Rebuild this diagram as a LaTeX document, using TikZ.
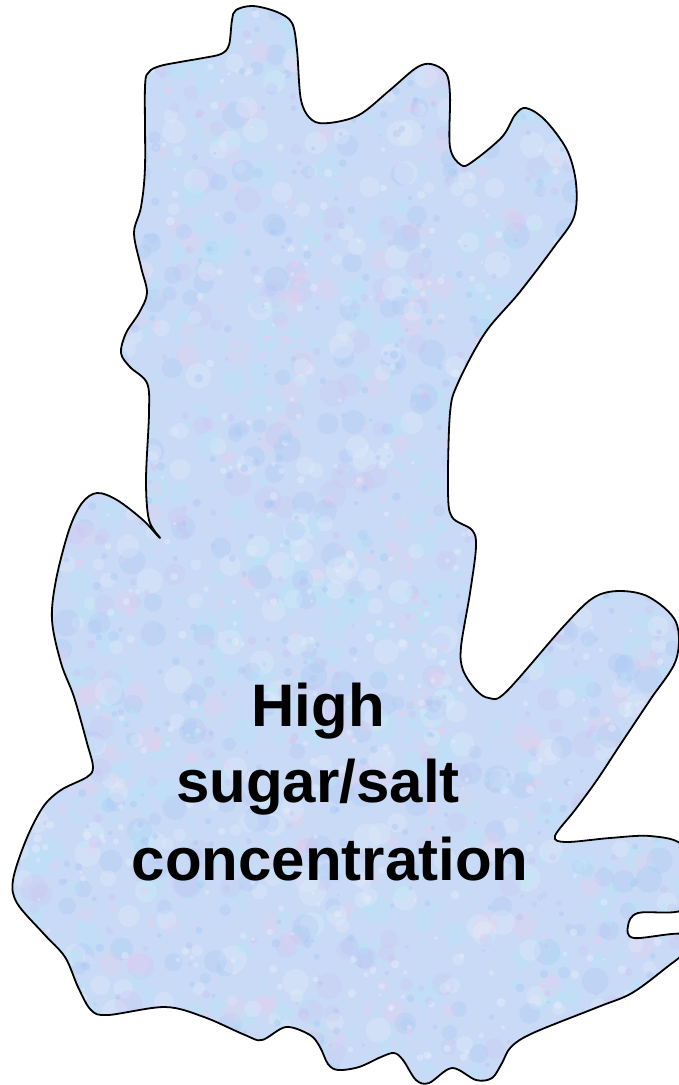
\documentclass[tikz,border=0pt]{standalone}
\usepackage{fontspec}
\setmainfont{Liberation Sans}
\definecolor{basefill}{RGB}{200,218,246}
\definecolor{tA}{RGB}{168,198,244}
\definecolor{tB}{RGB}{206,194,242}
\definecolor{tC}{RGB}{238,204,236}
\definecolor{tD}{RGB}{180,232,246}
\definecolor{tE}{RGB}{234,240,253}
\pgfmathdeclarerandomlist{texcol}{{tA}{tB}{tC}{tD}{tE}{tA}{tD}{tE}}
\tikzset{
  outline/.style={draw=black, line width=1.8pt, line join=round},
  label/.style={font=\fontsize{60}{77}\selectfont\bfseries, anchor=base, inner sep=0pt, text=black}
}
\begin{document}
\begin{tikzpicture}[x=1pt,y=-1pt]
\useasboundingbox (0,0) rectangle (679,1085);
\path[save path=\blobpath] plot[smooth cycle, tension=0.55] coordinates {
 (232,20) (236,10) (253,6) (277,12) (292,23) (297,50) (301,100) (312,120) (329,123)
 (359,115) (390,90) (416,68) (431,64) (446,73) (450,95) (450,147) (461,165) (472,162)
 (502,137) (515,115) (526,108) (545,120) (567,150) (576,183) (574,217) (554,247)
 (519,293) (485,333) (458,383) (450,413) (448,490) (452,517) (472,530) (476,547)
 (470,593) (461,647) (463,670) (476,690) (489,698) (506,692) (563,627) (593,598)
 (619,591) (649,597) (676,622) (676,660) (650,700) (620,745) (597,780) (575,810)
 (555,836) (566,842) (610,838) (650,836) (682,845) (688,880) (682,910) (638,913)
 (628,926) (634,938) (682,934) (684,952) (667,967) (632,993) (598,1007) (533,1033)
 (511,1047) (502,1063) (492,1078) (476,1080) (452,1068) (429,1083) (416,1080)
 (403,1060) (394,1053) (381,1057) (359,1067) (338,1070) (328,1064) (320,1047)
 (310,1035) (286,1027) (262,1040) (245,1035) (204,1017) (165,1007) (108,1015)
 (91,1010) (78,987) (65,957) (43,933) (17,903) (13,880) (26,840) (43,807) (61,790)
 (87,777) (93,767) (87,743) (74,697) (61,663) (52,620) (56,580) (69,530) (82,503)
 (97,493) (117,500) (143,520) (160,538) (149,520) (146,480) (149,413) (147,383)
 (130,367) (121,353) (126,333) (139,313) (147,293) (141,267) (134,233) (141,207)
 (145,167) (145,87) (149,72) (160,66) (180,62) (203,58) (221,54) (229,45)
};
\path[use path=\blobpath, fill=basefill];
\begin{scope}
\path[use path=\blobpath, clip];
\pgfmathsetseed{4242}
\foreach \i in {1,...,1600} {
  \pgfmathsetmacro{\xx}{rnd*700-10}
  \pgfmathsetmacro{\yy}{rnd*1100-10}
  \pgfmathsetmacro{\rr}{5+rnd*9}
  \pgfmathrandomitem{\cc}{texcol}
  \fill[\cc, opacity=0.28] (\xx,\yy) circle[radius=\rr];
}
\foreach \i in {1,...,1800} {
  \pgfmathsetmacro{\xx}{rnd*700-10}
  \pgfmathsetmacro{\yy}{rnd*1100-10}
  \pgfmathsetmacro{\rr}{1.5+rnd*3}
  \pgfmathrandomitem{\cc}{texcol}
  \fill[\cc, opacity=0.4] (\xx,\yy) circle[radius=\rr];
}
\end{scope}
\path[use path=\blobpath, outline];
\node[label] (l1) at (318,726) {High};
\node[label] (l2) at (318,802) {sugar/salt};
\node[label] (l3) at (330,880) {concentration};
\end{tikzpicture}
\end{document}
